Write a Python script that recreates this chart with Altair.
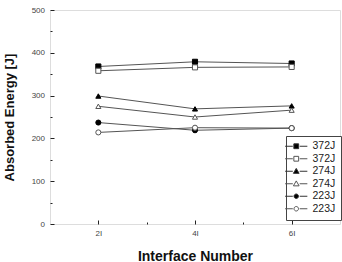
import altair as alt
import pandas as pd

# Interface counts on the x axis (drawn as 2I, 4I, 6I)
interfaces = [2, 4, 6]

# Series keys: impact level + marker style
series_names = ["372J solid", "372J open", "274J solid", "274J open", "223J solid", "223J open"]

# Absorbed energy [J] per series at 2I, 4I, 6I
energy_372_solid = [368, 379, 375]
energy_372_open = [358, 366, 367]
energy_274_solid = [299, 269, 276]
energy_274_open = [275, 250, 266]
energy_223_solid = [237, 219, 224]
energy_223_open = [214, 225, 224]

all_series = [energy_372_solid, energy_372_open, energy_274_solid,
              energy_274_open, energy_223_solid, energy_223_open]

rows = []
for name, values in zip(series_names, all_series):
    for x, v in zip(interfaces, values):
        rows.append({"interface": x, "energy": v, "series": name})
df = pd.DataFrame(rows)

FONT = "Liberation Sans"

marker_shapes = ["square", "square", "triangle-up", "triangle-up", "circle", "circle"]
marker_fills = ["#000000", "#ffffff", "#000000", "#ffffff", "#000000", "#ffffff"]
marker_strokes = ["#000000", "#555555", "#000000", "#555555", "#000000", "#555555"]

# Legend glyphs: short line - marker - short line
seg = "M-3.7,0H-1.15M1.15,0H3.7"
sq = "M-0.8,-0.8H0.8V0.8H-0.8Z"
tri = "M0,-0.95L0.95,0.7H-0.95Z"
circ = "M-0.75,0A0.75,0.75 0 1,0 0.75,0A0.75,0.75 0 1,0 -0.75,0Z"
legend_glyphs = [seg + sq, seg + sq, seg + tri, seg + tri, seg + circ, seg + circ]
legend_strokes = ["#333333", "#555555", "#333333", "#555555", "#333333", "#555555"]

x_scale = alt.Scale(domain=[1, 7], nice=False, zero=False)
y_scale = alt.Scale(domain=[0, 500], nice=False)

axis_common = dict(
    domain=False, grid=False, tickColor="#222", tickWidth=1,
    labelFont=FONT, labelFontSize=8, labelColor="#444",
    titleFont=FONT, titleFontWeight="bold", titleColor="#111",
)

lines = alt.Chart(df).mark_line(color="#555555", strokeWidth=1).encode(
    x=alt.X("interface:Q", scale=x_scale,
            axis=alt.Axis(values=[2, 4, 6], labelExpr="datum.value + 'I'",
                          title="Interface Number", titleFontSize=14,
                          tickSize=4, offset=-4, labelPadding=5,
                          titlePadding=12, orient="bottom", **axis_common)),
    y=alt.Y("energy:Q", scale=y_scale,
            axis=alt.Axis(values=[0, 100, 200, 300, 400, 500],
                          title="Absorbed Energy [J]", titleFontSize=13,
                          tickSize=4, offset=-4, labelPadding=5.5,
                          titlePadding=15, orient="left", **axis_common)),
    detail="series:N",
)

# Markers, with the minor tick axes
points = alt.Chart(df).mark_point(opacity=1, fillOpacity=1, strokeWidth=1).encode(
    x=alt.X("interface:Q", scale=x_scale,
            axis=alt.Axis(values=[3, 5], labels=False, title=None, tickSize=2,
                          offset=-2, orient="bottom", **axis_common)),
    y=alt.Y("energy:Q", scale=y_scale,
            axis=alt.Axis(values=[50, 150, 250, 350, 450], labels=False, title=None,
                          tickSize=2, offset=-2, orient="left", **axis_common)),
    shape=alt.Shape("series:N", scale=alt.Scale(domain=series_names, range=marker_shapes), legend=None),
    fill=alt.Fill("series:N", scale=alt.Scale(domain=series_names, range=marker_fills), legend=None),
    stroke=alt.Stroke("series:N", scale=alt.Scale(domain=series_names, range=marker_strokes), legend=None),
    size=alt.value(26),
)

legend_def = alt.Legend(
    title=None, orient="none", legendX=236, legendY=126,
    labelExpr="split(datum.label, ' ')[0]",
    labelFont=FONT, labelFontSize=10.5, labelColor="#222",
    symbolSize=36, symbolStrokeWidth=1, labelOffset=11, rowPadding=1.5,
    padding=5, strokeColor="#444", fillColor="#ffffff",
)

# Legend-only layer (no marks drawn)
legend_layer = alt.Chart(df).transform_filter("false").mark_point(
    opacity=1, fillOpacity=1, strokeWidth=1
).encode(
    x=alt.X("interface:Q", scale=x_scale, axis=None),
    y=alt.Y("energy:Q", scale=y_scale, axis=None),
    shape=alt.Shape("series:N", scale=alt.Scale(domain=series_names, range=legend_glyphs), legend=legend_def),
    fill=alt.Fill("series:N", scale=alt.Scale(domain=series_names, range=marker_fills), legend=legend_def),
    stroke=alt.Stroke("series:N", scale=alt.Scale(domain=series_names, range=legend_strokes), legend=legend_def),
)

chart = alt.layer(lines, points, legend_layer).resolve_scale(
    x="independent", y="independent",
    shape="independent", fill="independent", stroke="independent",
).properties(
    width=290, height=214,
    padding={"left": 50, "top": 10, "right": 2, "bottom": 38},
    autosize="none",
).configure_view(stroke="#222", strokeWidth=1).configure(background="white")

chart.save("out.html", embed_options={"renderer": "svg", "actions": False})
